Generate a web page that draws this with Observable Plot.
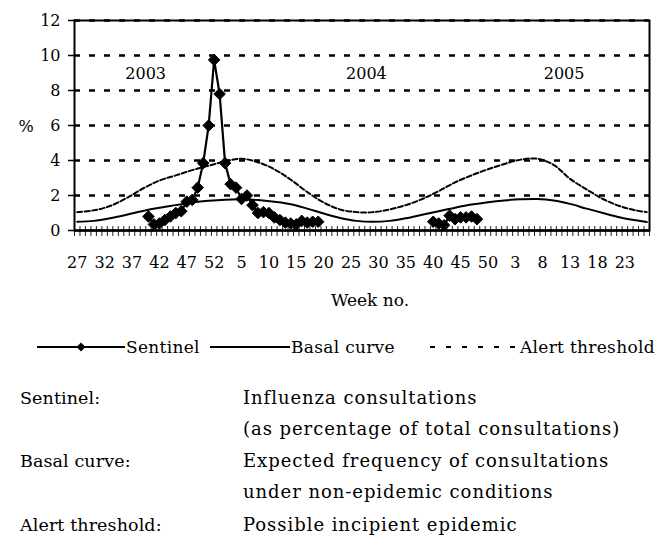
<!DOCTYPE html>
<html>
<head>
<meta charset="utf-8">
<script src="https://cdn.jsdelivr.net/npm/d3@7"></script>
<script src="https://cdn.jsdelivr.net/npm/@observablehq/plot@0.6"></script>
<style>
  body { margin: 0; background: #fff; font-family: "DejaVu Serif", serif; color: #000; }
  #wrap { position: relative; width: 656px; height: 545px; overflow: hidden; }
  #chart { position: absolute; left: 0; top: 0; }
  .row { position: absolute; line-height: 20px; white-space: nowrap; }
  .term { font-size: 17.5px; letter-spacing: 0.1px; }
  .desc { font-size: 18px; letter-spacing: 0.95px; }
  #legend { position: absolute; left: 0; top: 335px; }
</style>
</head>
<body>
<div id="wrap">
  <div id="chart"></div>
  <svg id="legend" width="656" height="24"></svg>
  <div id="notes"></div>
</div>
<script>
// ---- categories: ISO weeks shown on the axis ----
const seasons = [
  { year: 2003, first: 27, last: 52 },
  { year: 2004, first: 1, last: 52 },
  { year: 2005, first: 1, last: 27 }
];
const xTickLabels = [27, 32, 37, 42, 47, 52, 5, 10, 15, 20, 25, 30, 35, 40, 45, 50, 3, 8, 13, 18, 23];
const yTicks = [0, 2, 4, 6, 8, 10, 12];
const gridValues = [2, 4, 6, 8, 10, 12];

// ---- sentinel series (influenza consultations, %) ----
const sentinel1Start = { year: 2003, week: 40 };
const sentinel1Values = [0.8, 0.35, 0.4, 0.6, 0.8, 1.0, 1.1, 1.65, 1.75, 2.45, 3.85, 6.0, 9.75,
                         7.8, 3.85, 2.65, 2.45, 1.8, 2.0, 1.45, 1.0, 1.05, 1.0, 0.75, 0.6, 0.45, 0.4, 0.35, 0.55, 0.45, 0.5, 0.5];
const sentinel2Start = { year: 2004, week: 40 };
const sentinel2Values = [0.5, 0.4, 0.3, 0.85, 0.65, 0.75, 0.75, 0.8, 0.65];

// ---- basal curve and alert threshold, read at every 3rd week (category index) ----
const curveSampleIdx = [0, 3, 6, 9, 12, 15, 18, 21, 24, 27, 30, 33, 36, 39, 42, 45, 48, 51, 54, 57,
                        60, 63, 66, 69, 72, 75, 78, 81, 84, 87, 90, 93, 96, 99, 102, 104];
const alertValues = [1.05, 1.15, 1.4, 1.85, 2.4, 2.85, 3.15, 3.45, 3.7, 3.95, 4.1, 3.9, 3.5, 2.9, 2.2, 1.6, 1.2, 1.05, 1.05, 1.2,
                     1.45, 1.8, 2.25, 2.75, 3.15, 3.5, 3.8, 4.05, 4.1, 3.75, 2.95, 2.35, 1.8, 1.4, 1.15, 1.05];
const basalValues = [0.5, 0.55, 0.7, 0.9, 1.12, 1.3, 1.45, 1.6, 1.7, 1.76, 1.78, 1.74, 1.64, 1.5, 1.25, 0.97, 0.72, 0.55, 0.5, 0.55,
                     0.7, 0.9, 1.1, 1.3, 1.48, 1.62, 1.72, 1.78, 1.8, 1.72, 1.52, 1.25, 1.0, 0.76, 0.58, 0.48];

// ---- year annotations ----
const yearLabels = ["2003", "2004", "2005"];
const yearLabelIdx = [12.5, 52.8, 88.9];
const yearLabelY = 8.95;

// ---- build tables ----
const categories = [];
for (const s of seasons) for (let w = s.first; w <= s.last; w++) categories.push({ year: s.year, week: w });
const idxOf = (year, week) => categories.findIndex(c => c.year === year && c.week === week);

const sentinelPts = [];
[[sentinel1Start, sentinel1Values, "s1"], [sentinel2Start, sentinel2Values, "s2"]].forEach(([st, vals, key]) => {
  const i0 = idxOf(st.year, st.week);
  vals.forEach((v, k) => sentinelPts.push({ i: i0 + k, v, season: key }));
});
const alertPts = curveSampleIdx.map((i, k) => ({ i, v: alertValues[k] }));
const basalPts = curveSampleIdx.map((i, k) => ({ i, v: basalValues[k] }));
const labelIdx = xTickLabels.map((_, k) => k * 5);
const boundaries = d3.range(0, categories.length + 1).map(k => k - 0.5);

const chart = Plot.plot({
  width: 656,
  height: 320,
  marginTop: 20,
  marginBottom: 90,
  marginLeft: 74,
  marginRight: 7,
  style: { fontFamily: "DejaVu Serif", fontSize: "16px", color: "#000", background: "#fff" },
  x: { type: "linear", domain: [-0.5, categories.length - 0.5] },
  y: { domain: [0, 12] },
  marks: [
    Plot.ruleY(gridValues, { y: d => d, stroke: "#000", strokeWidth: 2.5, strokeDasharray: "6,9" }),
    Plot.line(alertPts, { x: "i", y: "v", curve: "catmull-rom", stroke: "#000", strokeWidth: 2, strokeDasharray: "5,2.5" }),
    Plot.line(basalPts, { x: "i", y: "v", curve: "catmull-rom", stroke: "#000", strokeWidth: 2 }),
    Plot.line(sentinelPts, { x: "i", y: "v", z: "season", stroke: "#000", strokeWidth: 2.2 }),
    Plot.dot(sentinelPts, { x: "i", y: "v", symbol: "diamond2", r: 5.2, fill: "#000", stroke: "#000", strokeWidth: 1 }),
    Plot.ruleX(boundaries, { x: d => d, y1: 0, y2: 0, insetTop: -4, insetBottom: -6, stroke: "#222", strokeWidth: 1 }),
    Plot.frame({ stroke: "#000", strokeWidth: 2 }),
    Plot.ruleY([0], { stroke: "#000", strokeWidth: 2.5 }),
    Plot.axisY({ ticks: yTicks, tickSize: 6, tickPadding: 8, label: null, fontSize: 16, strokeWidth: 1.5 }),
    Plot.axisX({ ticks: labelIdx, tickFormat: d => xTickLabels[Math.round(d / 5)], tickSize: 0, tickPadding: 26, label: null, fontSize: 16 }),
    Plot.text(yearLabels, { x: (d, k) => yearLabelIdx[k], y: yearLabelY, text: d => d, fontSize: 16 }),
    Plot.text(["%"], { frameAnchor: "left", y: 5.9, dx: -56, text: d => d, fontSize: 16 }),
    Plot.text(["Week no."], { frameAnchor: "bottom", dy: 75, dx: 8, text: d => d, fontSize: 17 })
  ]
});
document.getElementById("chart").appendChild(chart);

// ---- legend ----
const legendItems = [
  { name: "Sentinel", x1: 37, x2: 125, marker: true, dash: null, tx: 126 },
  { name: "Basal curve", x1: 210, x2: 290, marker: false, dash: null, tx: 291 },
  { name: "Alert threshold", x1: 430, x2: 519, marker: false, dash: "5,11", tx: 520 }
];
const lg = d3.select("#legend");
legendItems.forEach(it => {
  const l = lg.append("line").attr("x1", it.x1).attr("x2", it.x2).attr("y1", 12).attr("y2", 12)
    .attr("stroke", "#000").attr("stroke-width", 2);
  if (it.dash) l.attr("stroke-dasharray", it.dash);
  if (it.marker) {
    const cx = (it.x1 + it.x2) / 2;
    lg.append("path").attr("d", `M${cx},7.5L${cx + 4.5},12L${cx},16.5L${cx - 4.5},12Z`).attr("fill", "#000");
  }
  lg.append("text").attr("x", it.tx).attr("y", 18).attr("font-size", 17).attr("letter-spacing", 0.3)
    .attr("font-family", "DejaVu Serif").text(it.name);
});

// ---- notes ----
const noteTerms = ["Sentinel:", "", "Basal curve:", "", "Alert threshold:"];
const noteTexts = ["Influenza consultations", "(as percentage of total consultations)",
                   "Expected frequency of consultations", "under non-epidemic conditions",
                   "Possible incipient epidemic"];
const noteCenters = [398, 429, 461, 492, 525];
const notes = d3.select("#notes");
noteTexts.forEach((t, k) => {
  if (noteTerms[k]) notes.append("div").attr("class", "row term").style("left", "20px").style("top", (noteCenters[k] - 10) + "px").text(noteTerms[k]);
  notes.append("div").attr("class", "row desc").style("left", "243px").style("top", (noteCenters[k] - 10) + "px").text(t);
});
</script>
</body>
</html>
